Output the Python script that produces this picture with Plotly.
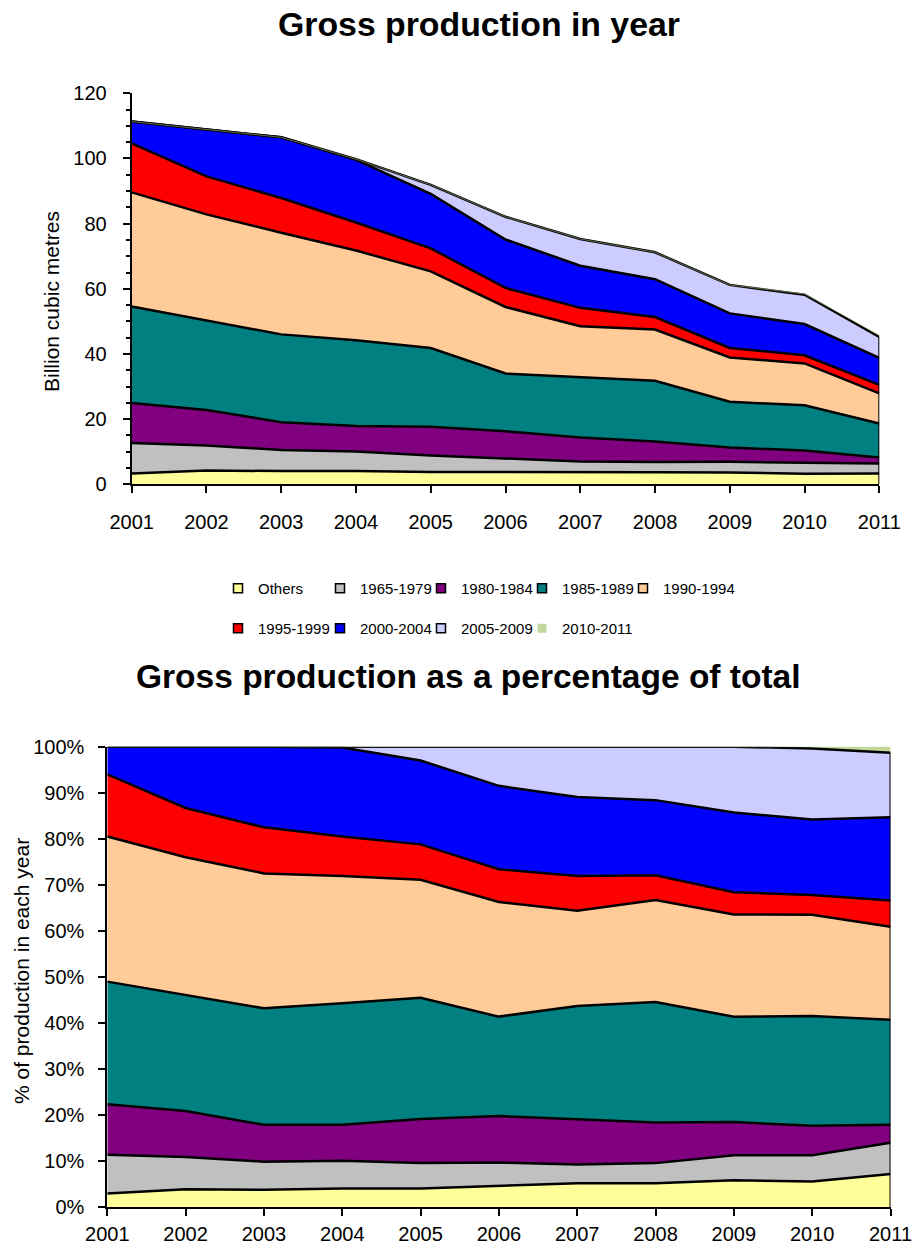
import plotly.graph_objects as go

# ---------------- data ----------------
years = [2001, 2002, 2003, 2004, 2005, 2006, 2007, 2008, 2009, 2010, 2011]
series_names = ["Others", "1965-1979", "1980-1984", "1985-1989", "1990-1994",
                "1995-1999", "2000-2004", "2005-2009", "2010-2011"]

others = [3.34, 4.25, 4.05, 4.09, 3.77, 3.78, 3.92, 3.70, 3.61, 3.27, 3.30]
s1965_1979 = [9.35, 7.63, 6.50, 5.99, 5.05, 4.19, 3.09, 3.13, 3.30, 3.33, 3.11]
s1980_1984 = [12.24, 10.90, 8.52, 7.78, 8.82, 8.29, 7.38, 6.27, 4.41, 3.74, 1.79]
s1985_1989 = [29.61, 27.47, 26.94, 26.35, 24.17, 17.73, 18.52, 18.65, 14.01, 13.90, 10.44]
s1990_1994 = [35.06, 32.59, 31.20, 27.54, 23.53, 20.44, 15.59, 15.74, 13.59, 12.85, 9.25]
s1995_1999 = [15.03, 11.66, 10.65, 8.58, 7.08, 5.83, 5.65, 3.84, 2.94, 2.51, 2.61]
s2000_2004 = [6.68, 14.50, 18.64, 19.26, 16.73, 14.86, 12.95, 11.61, 10.59, 9.58, 8.29]
s2005_2009 = [0.0, 0.0, 0.0, 0.20, 2.76, 6.98, 8.21, 8.26, 8.75, 8.99, 6.41]
s2010_2011 = [0.0, 0.0, 0.0, 0.0, 0.0, 0.0, 0.0, 0.0, 0.0, 0.23, 0.60]

series_values = [others, s1965_1979, s1980_1984, s1985_1989, s1990_1994,
                 s1995_1999, s2000_2004, s2005_2009, s2010_2011]

colors = ["#FFFF99", "#C0C0C0", "#800080", "#008080", "#FFCC99",
          "#FF0000", "#0000FF", "#CCCCFF", "#C4D79B"]

top_yticks = [0, 20, 40, 60, 80, 100, 120]
pct_yticks = [0, 10, 20, 30, 40, 50, 60, 70, 80, 90, 100]
pct_ticktext = [f"{v}%" for v in pct_yticks]

# ---------------- figure ----------------
W, H = 917, 1245
FONT = "Liberation Sans, Arial, sans-serif"


def px_x(p):
    return p / W


def px_y(p):
    return 1 - p / H


fig = go.Figure()

edge_name = series_names[-1]
for name, vals, col in zip(series_names, series_values, colors):
    bordered = name != edge_name
    line = dict(color="black", width=2.5) if bordered else dict(color=col, width=0.5)
    fig.add_trace(go.Scatter(
        x=years, y=vals, name=name, mode="lines", stackgroup="abs",
        fillcolor=col, line=line, showlegend=False, hoverinfo="x+y+name",
        xaxis="x", yaxis="y"))
    fig.add_trace(go.Scatter(
        x=years, y=vals, name=name, mode="lines", stackgroup="pct",
        groupnorm="percent", fillcolor=col, line=line, showlegend=False,
        hoverinfo="x+y+name", xaxis="x2", yaxis="y2"))

# right-hand outline of the stacked areas (last year), from the data
last_abs = sum(v[-1] for v in series_values[:-1])
last_tot = sum(v[-1] for v in series_values)
fig.add_trace(go.Scatter(x=[years[-1], years[-1]], y=[0, last_abs], mode="lines",
                         line=dict(color="black", width=2), showlegend=False,
                         hoverinfo="skip", xaxis="x", yaxis="y"))
fig.add_trace(go.Scatter(x=[years[-1], years[-1]], y=[0, 100 * last_abs / last_tot],
                         mode="lines", line=dict(color="black", width=2),
                         showlegend=False, hoverinfo="skip", xaxis="x2", yaxis="y2"))

# legend entries (square swatches), one legend box per entry for exact placement
legend_text_x = [258, 360, 461, 562, 663, 258, 360, 461, 562]
legend_row_y = [588.5] * 5 + [628.5] * 4
legend_layouts = {}
for i, (name, col) in enumerate(zip(series_names, colors)):
    bordered = name != edge_name
    lid = "legend" if i == 0 else f"legend{i + 1}"
    fig.add_trace(go.Scatter(
        x=[None], y=[None], mode="markers", name=name,
        marker=dict(symbol="square", size=9, color=col,
                    line=dict(color="black" if bordered else col, width=1.5 if bordered else 0)),
        legend=lid, hoverinfo="skip"))
    legend_layouts[lid] = dict(
        orientation="h", x=px_x(legend_text_x[i] - 40), xanchor="left",
        y=px_y(legend_row_y[i]), yanchor="middle", itemwidth=30,
        font=dict(family=FONT, size=15, color="black"), bgcolor="rgba(0,0,0,0)")

axis_common = dict(showgrid=False, zeroline=False, showline=True, linecolor="black",
                   linewidth=2, ticks="outside", tickcolor="black", tickwidth=2,
                   ticklen=7, automargin=False,
                   tickfont=dict(family=FONT, size=20, color="black"))

fig.update_layout(
    width=W, height=H,
    margin=dict(l=0, r=0, t=0, b=0, autoexpand=False),
    paper_bgcolor="white", plot_bgcolor="white",
    font=dict(family=FONT, color="black"),
    xaxis=dict(domain=[px_x(131.7), px_x(879.3)], range=[years[0], years[-1]],
               tickvals=years, anchor="y", ticklabelstandoff=12, **axis_common),
    yaxis=dict(domain=[px_y(484.3), px_y(93.3)], range=[0, 120], tickvals=top_yticks,
               anchor="x", ticklabelstandoff=12,
               minor=dict(dtick=5, ticks="outside", ticklen=4, tickcolor="black", tickwidth=1.5),
               **axis_common),
    xaxis2=dict(domain=[px_x(107.3), px_x(890.5)], range=[years[0], years[-1]],
                tickvals=years, anchor="y2", ticklabelstandoff=1, **axis_common),
    yaxis2=dict(domain=[px_y(1207.3), px_y(746.7)], range=[0, 100], tickvals=pct_yticks,
                ticktext=pct_ticktext, anchor="x2", ticklabelstandoff=10, **axis_common),
    annotations=[
        dict(text="<b>Gross production in year</b>", x=px_x(479), y=px_y(24.2),
             xref="paper", yref="paper", xanchor="center", yanchor="middle", showarrow=False,
             font=dict(family=FONT, size=33.8, color="black")),
        dict(text="<b>Gross production as a percentage of total</b>", x=px_x(468), y=px_y(676),
             xref="paper", yref="paper", xanchor="center", yanchor="middle", showarrow=False,
             font=dict(family=FONT, size=33.5, color="black")),
        dict(text="Billion cubic metres", x=px_x(52), y=px_y(302), textangle=-90,
             xref="paper", yref="paper", xanchor="center", yanchor="middle", showarrow=False,
             font=dict(family=FONT, size=21, color="black")),
        dict(text="% of production in each year", x=px_x(21), y=px_y(971), textangle=-90,
             xref="paper", yref="paper", xanchor="center", yanchor="middle", showarrow=False,
             font=dict(family=FONT, size=21, color="black")),
    ],
)
fig.update_layout(**legend_layouts)

# remove the browser's default page margin so the figure sits at the window origin
fig.write_html("out.html", config={"displayModeBar": False},
               post_script="document.body.style.margin='0';")
